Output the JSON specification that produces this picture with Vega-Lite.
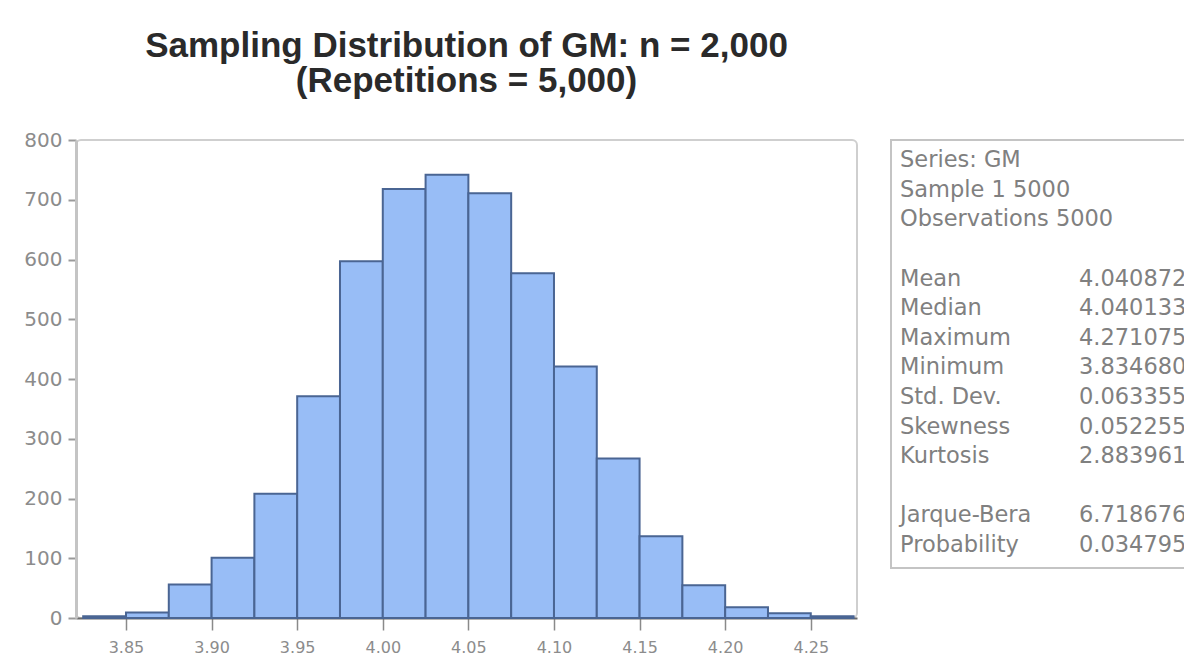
{
  "$schema": "https://vega.github.io/schema/vega-lite/v6.json",
  "padding": {"left": 22, "top": 28, "right": -20, "bottom": 0},
  "background": "white",
  "bounds": "flush",
  "spacing": 34,
  "datasets": {
    "hist": [
      {"bin_start": 3.825, "bin_end": 3.85, "count": 3},
      {"bin_start": 3.85, "bin_end": 3.875, "count": 9},
      {"bin_start": 3.875, "bin_end": 3.9, "count": 56},
      {"bin_start": 3.9, "bin_end": 3.925, "count": 101},
      {"bin_start": 3.925, "bin_end": 3.95, "count": 208},
      {"bin_start": 3.95, "bin_end": 3.975, "count": 371},
      {"bin_start": 3.975, "bin_end": 4.0, "count": 597},
      {"bin_start": 4.0, "bin_end": 4.025, "count": 718},
      {"bin_start": 4.025, "bin_end": 4.05, "count": 742},
      {"bin_start": 4.05, "bin_end": 4.075, "count": 711},
      {"bin_start": 4.075, "bin_end": 4.1, "count": 577},
      {"bin_start": 4.1, "bin_end": 4.125, "count": 421},
      {"bin_start": 4.125, "bin_end": 4.15, "count": 267},
      {"bin_start": 4.15, "bin_end": 4.175, "count": 137},
      {"bin_start": 4.175, "bin_end": 4.2, "count": 55},
      {"bin_start": 4.2, "bin_end": 4.225, "count": 18},
      {"bin_start": 4.225, "bin_end": 4.25, "count": 8},
      {"bin_start": 4.25, "bin_end": 4.275, "count": 3}
    ],
    "stats": [
      {"line": 1, "col": "name", "text": "Series: GM"},
      {"line": 2, "col": "name", "text": "Sample 1 5000"},
      {"line": 3, "col": "name", "text": "Observations 5000"},
      {"line": 5, "col": "name", "text": "Mean"},
      {"line": 5, "col": "value", "text": "4.040872"},
      {"line": 6, "col": "name", "text": "Median"},
      {"line": 6, "col": "value", "text": "4.040133"},
      {"line": 7, "col": "name", "text": "Maximum"},
      {"line": 7, "col": "value", "text": "4.271075"},
      {"line": 8, "col": "name", "text": "Minimum"},
      {"line": 8, "col": "value", "text": "3.834680"},
      {"line": 9, "col": "name", "text": "Std. Dev."},
      {"line": 9, "col": "value", "text": "0.063355"},
      {"line": 10, "col": "name", "text": "Skewness"},
      {"line": 10, "col": "value", "text": "0.052255"},
      {"line": 11, "col": "name", "text": "Kurtosis"},
      {"line": 11, "col": "value", "text": "2.883961"},
      {"line": 13, "col": "name", "text": "Jarque-Bera"},
      {"line": 13, "col": "value", "text": "6.718676"},
      {"line": 14, "col": "name", "text": "Probability"},
      {"line": 14, "col": "value", "text": "0.034795"}
    ]
  },
  "hconcat": [
    {
      "width": 781,
      "height": 478,
      "title": {
        "text": ["Sampling Distribution of GM: n = 2,000", "(Repetitions = 5,000)"],
        "font": "Liberation Sans",
        "fontSize": 35,
        "fontWeight": "bold",
        "color": "#2a2a2a",
        "lineHeight": 35,
        "anchor": "middle",
        "frame": "group",
        "offset": 31
      },
      "view": {"stroke": "#cfcfcf", "strokeWidth": 2, "cornerRadius": 5},
      "data": {"name": "hist"},
      "mark": {"type": "bar", "fill": "#98bdf6", "stroke": "#4a6593", "strokeWidth": 2},
      "encoding": {
        "x": {
          "field": "bin_start",
          "type": "quantitative",
          "scale": {"domain": [3.8208, 4.277], "nice": false, "zero": false},
          "axis": {
            "title": null,
            "values": [3.85, 3.9, 3.95, 4.0, 4.05, 4.1, 4.15, 4.2, 4.25],
            "format": ".2f",
            "grid": false,
            "domainColor": "#6a6a6a",
            "domainWidth": 2,
            "tickColor": "#8a8a8a",
            "tickWidth": 1.5,
            "tickSize": 12,
            "labelPadding": 9,
            "labelFont": "DejaVu Sans",
            "labelFontSize": 16,
            "labelColor": "#8c8c8c"
          }
        },
        "x2": {"field": "bin_end"},
        "y": {
          "field": "count",
          "type": "quantitative",
          "scale": {"domain": [0, 800], "nice": false},
          "axis": {
            "title": null,
            "values": [0, 100, 200, 300, 400, 500, 600, 700, 800],
            "grid": false,
            "domainColor": "#c4c4c4",
            "domainWidth": 3,
            "tickColor": "#9a9a9a",
            "tickWidth": 2,
            "tickSize": 8,
            "labelPadding": 6,
            "labelFont": "DejaVu Sans",
            "labelFontSize": 20,
            "labelColor": "#8c8c8c"
          }
        },
        "y2": {"datum": 0}
      }
    },
    {
      "width": 312,
      "height": 428,
      "view": {"stroke": "#c4c4c4", "strokeWidth": 2},
      "data": {"name": "stats"},
      "mark": {"type": "text", "align": "left", "baseline": "middle", "font": "DejaVu Sans", "fontSize": 22.5, "color": "#808080", "clip": true},
      "encoding": {
        "x": {"field": "col", "type": "nominal", "scale": {"type": "point", "domain": ["name", "value"], "range": [9, 188], "padding": 0}, "axis": null},
        "y": {"field": "line", "type": "quantitative", "scale": {"domain": [0.32, 14.78], "reverse": true, "nice": false, "zero": false}, "axis": null},
        "text": {"field": "text"}
      }
    }
  ]
}
